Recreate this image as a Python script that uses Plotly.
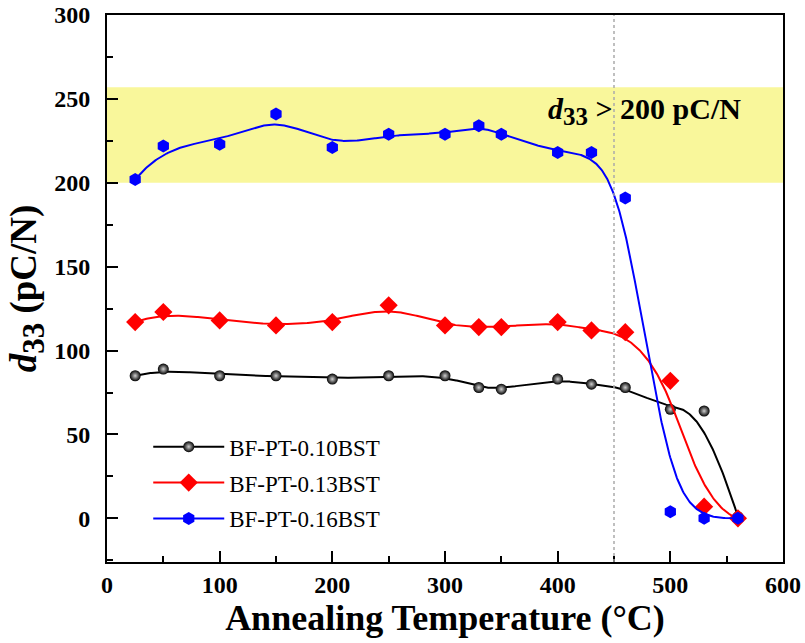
import numpy as np
import plotly.graph_objects as go

temps = [25, 50, 100, 150, 200, 250, 300, 330, 350, 400, 430, 460, 500, 530, 560]
d33_010 = [85, 89, 85, 85, 83, 85, 85, 78, 77, 83, 80, 78, 65, 64, 1]
d33_013 = [117, 123, 118, 115, 117, 127, 115, 114, 114, 117, 112, 111, 82, 7, 0]
d33_016 = [202, 222, 223, 241, 221, 229, 229, 234, 229, 218, 218, 191, 4, 0, 0]
series_names = ["BF-PT-0.10BST", "BF-PT-0.13BST", "BF-PT-0.16BST"]
band_low, band_high = 200, 257
threshold_temp = 450


def bspline(xs, ys, n=800, k=3):
    P = np.column_stack([xs, ys]).astype(float)
    m = len(P)
    knots = np.concatenate([np.zeros(k), np.linspace(0, 1, m - k + 1), np.ones(k)])
    t = np.linspace(0, 1, n)
    N = np.zeros((n, len(knots) - 1))
    for i in range(len(knots) - 1):
        N[:, i] = (knots[i] <= t) & (t < knots[i + 1])
    last = np.where(knots[:-1] < knots[1:])[0][-1]
    N[t >= knots[-1], last] = 1
    for p in range(1, k + 1):
        Nn = np.zeros((n, len(knots) - 1 - p))
        for i in range(len(knots) - 1 - p):
            d1 = knots[i + p] - knots[i]
            d2 = knots[i + p + 1] - knots[i + 1]
            a = (t - knots[i]) / d1 * N[:, i] if d1 > 0 else 0
            b = (knots[i + p + 1] - t) / d2 * N[:, i + 1] if d2 > 0 else 0
            Nn[:, i] = a + b
        N = Nn
    C = N @ P
    return C[:, 0], C[:, 1]


FONT = "Liberation Serif"
styles = [
    dict(color="black", symbol="circle", size=11,
         gradient=dict(type="radial", color="#d0d0d0")),
    dict(color="red", symbol="diamond", size=14),
    dict(color="blue", symbol="hexagon", size=13),
]
datasets = [d33_010, d33_013, d33_016]

fig = go.Figure()

fig.add_shape(type="rect", xref="paper", x0=0, x1=1, yref="y",
              y0=band_low, y1=band_high, fillcolor="#f9f79b",
              line=dict(width=0), layer="below")
fig.add_shape(type="line", xref="x", x0=threshold_temp, x1=threshold_temp,
              yref="paper", y0=0, y1=1,
              line=dict(color="#aaaaaa", width=1.5, dash="dot"))

for gi, (name, ys, st) in enumerate(zip(series_names, datasets, styles)):
    cx, cy = bspline(temps, ys)
    col = st["color"]
    grp = f"g{gi}"
    fig.add_trace(go.Scatter(x=cx, y=cy, mode="lines",
                             line=dict(color=col, width=2), legendgroup=grp,
                             showlegend=False, hoverinfo="skip"))
    mk = dict(color=col, symbol=st["symbol"], size=st["size"],
              line=dict(width=0))
    if "gradient" in st:
        mk["gradient"] = st["gradient"]
    fig.add_trace(go.Scatter(x=temps, y=ys, mode="markers", marker=mk,
                             legendgroup=grp, showlegend=False))
    fig.add_trace(go.Scatter(x=[None], y=[None], mode="lines+markers",
                             name=name, legendgroup=grp,
                             line=dict(color=col, width=2), marker=mk))

fig.add_annotation(x=477, y=243, xref="x", yref="y",
                   text="<b><i>d</i><sub><span style='font-size:25px'>33</span></sub> &gt; 200 pC/N</b>",
                   showarrow=False,
                   font=dict(family=FONT, size=30, color="black"))

axis_common = dict(
    showline=True, linecolor="black", linewidth=2, mirror=True,
    ticks="inside", ticklen=11, tickwidth=2, tickcolor="black",
    showgrid=False, zeroline=False, automargin=False,
    tickfont=dict(family=FONT, size=24, color="black", weight="bold"),
)

fig.update_xaxes(range=[0, 600], dtick=100, ticklabelstandoff=0,
                 minor=dict(ticks="inside", ticklen=6, tickwidth=2, dtick=50,
                            tickcolor="black"),
                 title=dict(text="<b>Annealing Temperature (°C)</b>",
                            font=dict(family=FONT, size=36, color="black"),
                            standoff=2),
                 **axis_common)
fig.update_yaxes(range=[-26, 300], tick0=0, dtick=50, ticklabelstandoff=10,
                 minor=dict(ticks="inside", ticklen=6, tickwidth=2, dtick=25,
                            tick0=0, tickcolor="black"),
                 title=dict(text="<b><i>d</i><sub><span style='font-size:31px'>33</span></sub> (pC/N)</b>",
                            font=dict(family=FONT, size=37, color="black"),
                            standoff=6),
                 **axis_common)

fig.update_layout(
    width=805, height=643,
    margin=dict(l=107, r=22, t=15, b=81),
    plot_bgcolor="white", paper_bgcolor="white",
    showlegend=True,
    legend=dict(x=0.061, y=0.25, xanchor="left", yanchor="top",
                bgcolor="rgba(0,0,0,0)",
                font=dict(family=FONT, size=23, color="black"),
                tracegroupgap=3, itemwidth=71),
)

fig.write_html("out.html",
               config={"displayModeBar": False},
               post_script="document.body.style.margin='0';"
                           "document.body.style.overflow='hidden';")
